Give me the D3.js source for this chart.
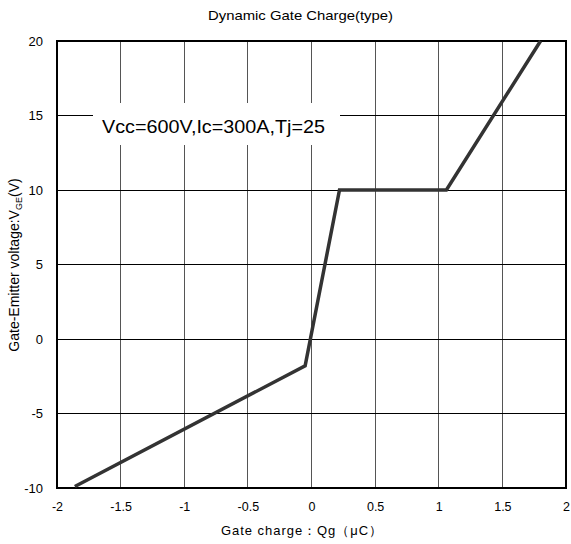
<!DOCTYPE html>
<html><head><meta charset="utf-8">
<script src="https://cdn.jsdelivr.net/npm/d3@7"></script>
<style>body{margin:0;background:#fff}svg{display:block;font-family:"Liberation Sans",Arial,sans-serif}</style>
</head><body><svg id="c" width="571" height="544"></svg>
<script>
const qg = [-1.86, -0.05, 0.22, 1.06, 1.80];
const vge = [-9.9, -1.8, 10, 10, 20];
const xTicks = [-2, -1.5, -1, -0.5, 0, 0.5, 1, 1.5, 2];
const yTicks = [-10, -5, 0, 5, 10, 15, 20];
const title = "Dynamic Gate Charge(type)";
const note = "Vcc=600V,Ic=300A,Tj=25";

const svg = d3.select("#c");
const L = 57, R = 566, T = 41, B = 488;
const x = d3.scaleLinear().domain([-2, 2]).range([L, R]);
const y = d3.scaleLinear().domain([-10, 20]).range([B, T]);

// grid
svg.append("g").selectAll("line").data(xTicks.slice(1, -1)).join("line")
  .attr("x1", d => x(d)).attr("x2", d => x(d)).attr("y1", T).attr("y2", B)
  .attr("stroke", "#555").attr("stroke-width", 1).attr("shape-rendering", "crispEdges");
svg.append("g").selectAll("line").data(yTicks.slice(1, -1)).join("line")
  .attr("x1", L).attr("x2", R).attr("y1", d => y(d)).attr("y2", d => y(d))
  .attr("stroke", "#000").attr("stroke-width", 1).attr("shape-rendering", "crispEdges");

// annotation box
svg.append("rect").attr("x", 93).attr("y", 103).attr("width", 247).attr("height", 42).attr("fill", "#fff");
svg.append("text").attr("x", 102).attr("y", 133).attr("font-size", 18).attr("fill", "#000")
  .attr("textLength", 223).attr("lengthAdjust", "spacingAndGlyphs").text(note);

// frame
svg.append("rect").attr("x", L).attr("y", T).attr("width", R - L).attr("height", B - T)
  .attr("fill", "none").attr("stroke", "#000").attr("stroke-width", 2);

// curve
const pts = qg.map((q, i) => [q, vge[i]]);
svg.append("path").datum(pts)
  .attr("d", d3.line().x(d => x(d[0])).y(d => y(d[1])))
  .attr("fill", "none").attr("stroke", "#333").attr("stroke-width", 3.5).attr("stroke-linejoin", "miter");

// axes
const xa = svg.append("g").attr("transform", `translate(0,${B})`)
  .call(d3.axisBottom(x).tickValues(xTicks).tickSize(0).tickPadding(14).tickFormat(d => String(d)));
xa.select(".domain").remove();
xa.selectAll("text").attr("font-size", 12.5).attr("fill", "#000").attr("font-family", "Liberation Sans, Arial, sans-serif");
const ya = svg.append("g").attr("transform", `translate(${L},0)`)
  .call(d3.axisLeft(y).tickValues(yTicks).tickSize(0).tickPadding(14).tickFormat(d => String(d)));
ya.select(".domain").remove();
ya.selectAll("text").attr("font-size", 13).attr("fill", "#000").attr("font-family", "Liberation Sans, Arial, sans-serif");

// title
svg.append("text").attr("x", 208).attr("y", 20).attr("font-size", 13)
  .attr("textLength", 185).attr("lengthAdjust", "spacingAndGlyphs").text(title);

// x label
svg.append("text").attr("x", 221).attr("y", 535).attr("font-size", 13)
  .attr("textLength", 161).attr("lengthAdjust", "spacing").text("Gate charge：Qg（μC）");

// y label
const yl = svg.append("text").attr("transform", "translate(19,265) rotate(-90)").attr("text-anchor", "middle").attr("font-size", 14);
yl.append("tspan").text("Gate-Emitter voltage:V");
yl.append("tspan").attr("font-size", 9).attr("dy", 3).text("GE");
yl.append("tspan").attr("dy", -3).text("(V)");
</script></body></html>
